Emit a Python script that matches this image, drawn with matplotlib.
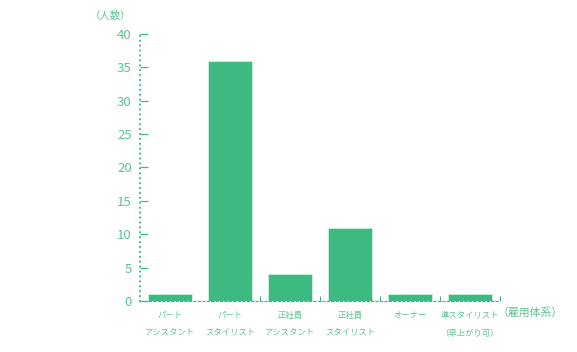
import matplotlib.pyplot as plt
import numpy as np

plt.rcParams['font.family'] = ['Noto Sans CJK JP', 'DejaVu Sans']

categories = ['パート\nアシスタント', 'パート\nスタイリスト', '正社員\nアシスタント',
              '正社員\nスタイリスト', 'オーナー', '準スタイリスト\n（早上がり可）']
values = [1, 36, 4, 11, 1, 1]

bar_color = '#3dba81'
text_color = '#5cc494'

fig = plt.figure(figsize=(5.77, 3.52), dpi=100)
ax = fig.add_axes([0.2426, 0.145, 0.624, 0.7585])

x = np.arange(len(categories))
ax.bar(x, values, width=0.72, color=bar_color, edgecolor='#d5f2e3', linewidth=0.5)

ax.set_xlim(-0.5, len(categories) - 0.5)
ax.set_ylim(0, 40)
ax.set_yticks(range(0, 41, 5))

# 枠線
for s in ['top', 'right']:
    ax.spines[s].set_visible(False)
ax.spines['left'].set_color(bar_color)
ax.spines['left'].set_linewidth(1.6)
ax.spines['left'].set_linestyle((0, (0.01, 2.2)))
ax.spines['left'].set_capstyle('round')
ax.spines['bottom'].set_color(bar_color)
ax.spines['bottom'].set_linewidth(0.8)
ax.spines['bottom'].set_linestyle((0, (2, 2)))

ax.tick_params(axis='y', direction='in', length=6, width=0.9, color=bar_color,
               labelcolor=text_color, labelsize=9.5, pad=6)
ax.set_xticks(x)
ax.set_xticklabels(categories, linespacing=2.3)
ax.tick_params(axis='x', length=0, labelcolor=text_color, labelsize=6, pad=7)
ax.set_xticks(x[1:] + 0.5, minor=True)
ax.tick_params(axis='x', which='minor', direction='in', length=3.5, width=0.8, color=bar_color)

fig.text(0.155, 0.955, '（人数）', color=text_color, fontsize=7.5, ha='left', va='center')
fig.text(0.862, 0.113, '（雇用体系）', color=text_color, fontsize=7.8, ha='left', va='center')

fig.savefig('out.png', dpi=100)
